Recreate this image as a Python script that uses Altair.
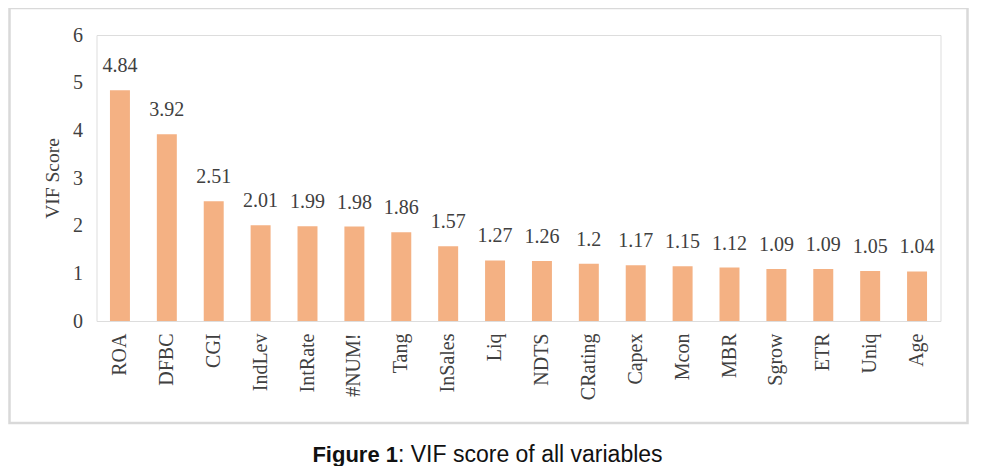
import altair as alt
import pandas as pd

variables = ["ROA", "DFBC", "CGI", "IndLev", "IntRate", "#NUM!", "Tang", "InSales", "Liq",
             "NDTS", "CRating", "Capex", "Mcon", "MBR", "Sgrow", "ETR", "Uniq", "Age"]
vif = [4.84, 3.92, 2.51, 2.01, 1.99, 1.98, 1.86, 1.57, 1.27,
       1.26, 1.2, 1.17, 1.15, 1.12, 1.09, 1.09, 1.05, 1.04]
y_ticks = [0, 1, 2, 3, 4, 5, 6]
caption_bold = "Figure 1"
caption_rest = ": VIF score of all variables"
y_title = "VIF Score"

df = pd.DataFrame({"var": variables, "vif": vif})

serif = "'Liberation Serif', 'Times New Roman', serif"
sans = "'Liberation Sans', Arial, sans-serif"
txt_color = "#404040"
bar_color = "#F4B183"

x_enc = alt.X("var:N", sort=variables,
              scale=alt.Scale(paddingInner=0.574, paddingOuter=0.287),
              axis=alt.Axis(title=None, labelAngle=-90, labelPadding=12, domain=False,
                            ticks=False, labelFont=serif, labelFontSize=20,
                            labelColor=txt_color))
y_enc = alt.Y("vif:Q", scale=alt.Scale(domain=[0, 6], nice=False),
              axis=alt.Axis(title=y_title, values=y_ticks, grid=False, domain=False,
                            ticks=False, labelPadding=14, labelFont=serif,
                            labelFontSize=20, labelColor=txt_color,
                            titleFont=serif, titleFontSize=19.5, titleFontWeight="normal",
                            titleColor=txt_color, titleX=-44, titleY=143,
                            titleAngle=-90, titleAlign="center", titleBaseline="middle"))

border = alt.Chart(pd.DataFrame({"a": [0]})).mark_rect(
    fillOpacity=0, stroke="#d9d9d9", strokeWidth=2.5, clip=False
).encode(x=alt.value(-87), x2=alt.value(871), y=alt.value(-27), y2=alt.value(388))

bars = alt.Chart(df).mark_bar(color=bar_color).encode(x=x_enc, y=y_enc)

labels = alt.Chart(df).mark_text(
    baseline="alphabetic", dy=-18, font=serif, fontSize=20, color=txt_color
).encode(x=alt.X("var:N", sort=variables), y="vif:Q", text=alt.Text("vif:Q", format=".3~g"))

cap1 = alt.Chart(pd.DataFrame({"t": [caption_bold]})).mark_text(
    align="right", baseline="alphabetic", font=sans, fontSize=22,
    fontWeight="bold", color="#111111", clip=False
).encode(text="t:N", x=alt.value(301.5), y=alt.value(427))

cap2 = alt.Chart(pd.DataFrame({"t": [caption_rest]})).mark_text(
    align="left", baseline="alphabetic", font=sans, fontSize=23,
    color="#111111", clip=False
).encode(text="t:N", x=alt.value(301.5), y=alt.value(427))

chart = alt.layer(border, bars, labels, cap1, cap2).properties(
    width=844, height=286,
    autosize=alt.AutoSizeParams(type="none"),
    padding={"left": 88.5, "top": 27, "right": 30, "bottom": 145},
).configure_view(stroke=None).configure(background="white")

chart.save("out.html", embed_options={"renderer": "svg", "actions": False})
